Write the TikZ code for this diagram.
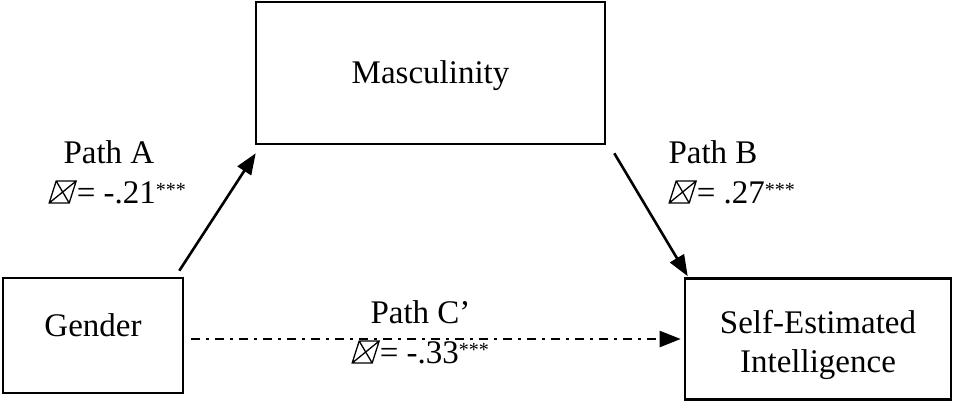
\documentclass[tikz,border=0pt]{standalone}
\usepackage{fontspec}
\setmainfont{Liberation Serif}
\usetikzlibrary{arrows.meta}

% the box glyph printed in place of the coefficient letter
\newcommand{\boxglyph}{\tikz[baseline=0pt,x=1pt,y=1pt,line width=1.3pt]{\draw (0,0)--(20,0)--(27,22)--(7,22)--cycle (0,0)--(27,22) (7,22)--(20,0);}}
% significance stars
\newcommand{\sigstars}{\raisebox{7pt}{\fontsize{20}{20}\selectfont ***}}

\tikzset{
  box/.style={draw, rectangle, line width=2.6pt, inner sep=0pt},
  txt/.style={font=\fontsize{33}{39}\selectfont},
  path/.style={-{Triangle[length=21pt,width=16pt]}, line width=2.6pt},
}

\begin{document}
\begin{tikzpicture}[x=1pt,y=-1pt,every node/.style={txt}]
			\useasboundingbox (0,0) rectangle (953,402);

			\node [box, minimum width=349pt, minimum height=142pt, label={[txt,yshift=-3pt]center:Masculinity}] (masc) at (430.5,73) {};
			\node [box, minimum width=180pt, minimum height=115pt, label={[txt,yshift=10pt]center:Gender}] (gender) at (93,335.5) {};
			\node [box, minimum width=266pt, minimum height=121pt, label={[txt,align=center,yshift=-6pt]center:Self-Estimated\\Intelligence}] (sei) at (818,339) {};

			\node [anchor=base west] (pathA) at (60,163) {Path A};
			\node [anchor=base west] (betaA) at (45,203) {\boxglyph= -.21\sigstars};
			\node [anchor=base west] (pathB) at (665,163) {Path B};
			\node [anchor=base west] (betaB) at (665,203) {\boxglyph= .27\sigstars};
			\node [anchor=base west] (pathC) at (367,323) {Path C’};
			\node [anchor=base west] (betaC) at (348,363) {\boxglyph= -.33\sigstars};

			\draw [path] ([xshift=-5pt,yshift=6pt]gender.north east) -- ([xshift=1pt,yshift=-8pt]masc.south west);
			\draw [path] ([xshift=8pt,yshift=-8pt]masc.south east) -- ([xshift=4pt,yshift=1pt]sei.north west);
			\draw [path, line width=2.2pt, dash pattern=on 9pt off 6pt on 3pt off 6pt] ([xshift=7pt]gender.east |- sei.west) -- ([xshift=-3pt]sei.west);
		\end{tikzpicture}
\end{document}
